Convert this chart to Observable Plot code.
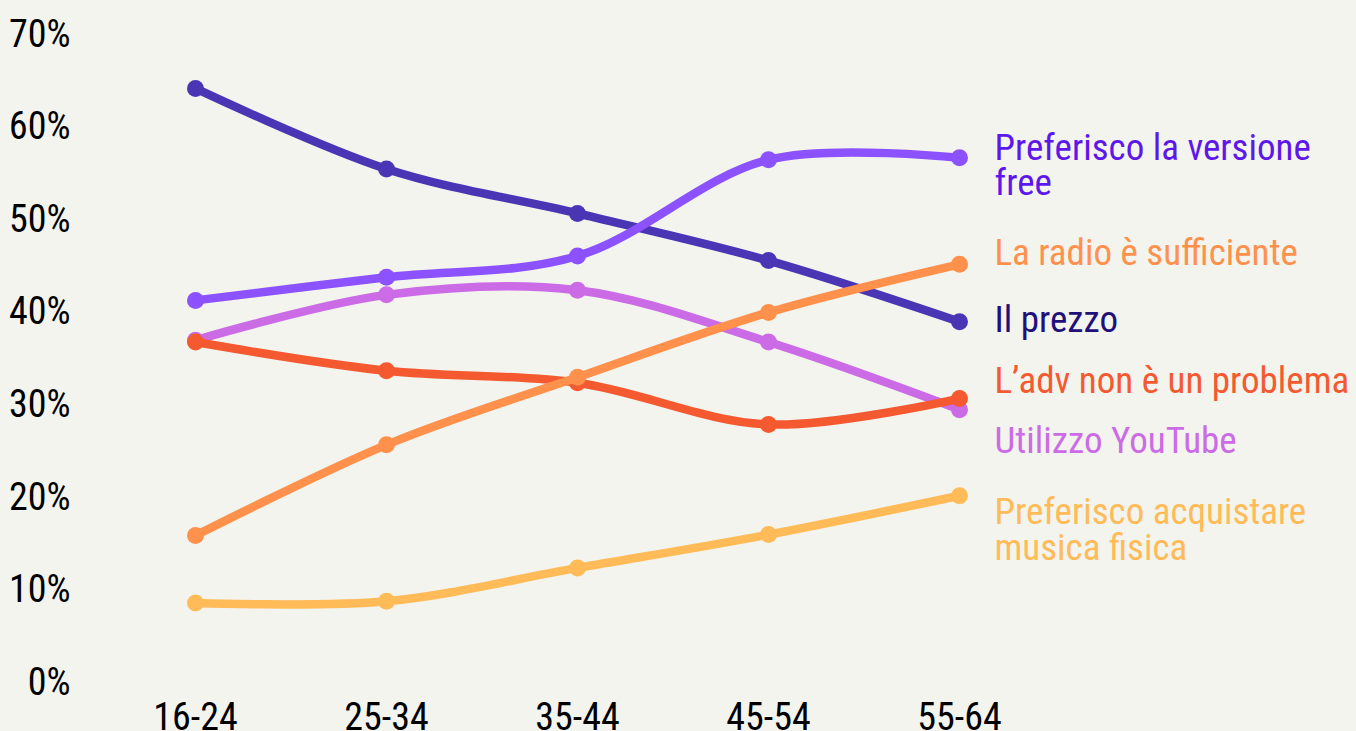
<!DOCTYPE html>
<html>
<head>
<meta charset="utf-8">
<script src="https://cdn.jsdelivr.net/npm/d3@7"></script>
<script src="https://cdn.jsdelivr.net/npm/@observablehq/plot@0.6"></script>
<style>
  html, body { margin: 0; padding: 0; background: #f4f4ef; }
  #chart svg { display: block; }
</style>
</head>
<body>
<div id="chart"></div>
<script>
const ages = ["16-24", "25-34", "35-44", "45-54", "55-64"];
const seriesNames = [
  "Preferisco acquistare\nmusica fisica",
  "Il prezzo",
  "Utilizzo YouTube",
  "L’adv non è un problema",
  "Preferisco la versione\nfree",
  "La radio è sufficiente"
];
const fisica  = [8.9, 9.1, 12.7, 16.3, 20.5];
const prezzo  = [64.5, 55.8, 51.0, 45.9, 39.3];
const youtube = [37.3, 42.2, 42.7, 37.1, 29.8];
const adv     = [37.1, 34.0, 32.7, 28.2, 31.0];
const free    = [41.6, 44.1, 46.4, 56.8, 57.0];
const radio   = [16.2, 26.0, 33.3, 40.3, 45.5];
const yTicks  = [0, 10, 20, 30, 40, 50, 60, 70];

const seriesValues = [fisica, prezzo, youtube, adv, free, radio];
const lineColors  = ["#ffbb58", "#4a36b5", "#cb6ce6", "#f4592f", "#8c52ff", "#ff914d"];
const labelColors = ["#ffbb58", "#22107a", "#cb6ce6", "#f4592f", "#5e17eb", "#ff914d"];
const labelDy     = [35, -1, 32, -17, 8, -11];

const rows = [];
seriesNames.forEach((s, i) => ages.forEach((a, j) => rows.push({series: s, age: a, value: seriesValues[i][j], idx: i})));
const last = seriesNames.map((s, i) => ({series: s, age: ages[ages.length - 1], value: seriesValues[i][ages.length - 1], idx: i}));

const FONT = "'Roboto Condensed', Roboto, sans-serif";
const marks = [];
seriesNames.forEach((s, i) => {
  const d = rows.filter(r => r.idx === i);
  marks.push(Plot.line(d, {x: "age", y: "value", stroke: lineColors[i], strokeWidth: 8.5, curve: "catmull-rom"}));
  marks.push(Plot.dot(d, {x: "age", y: "value", fill: lineColors[i], r: 8.5}));
});
last.forEach((l, i) => {
  marks.push(Plot.text([l], {
    x: "age", y: "value", text: "series", fill: labelColors[i],
    dx: 35, dy: labelDy[i], textAnchor: "start", lineAnchor: "middle", lineHeight: 0.95,
    fontSize: 37, fontFamily: FONT
  }));
});

const chart = Plot.plot({
  width: 1356,
  height: 731,
  marginTop: 37,
  marginBottom: 46,
  marginLeft: 78,
  marginRight: 0,
  style: {background: "#f4f4ef", overflow: "visible"},
  x: {type: "point", domain: ages, range: [193, 960], padding: 0, label: null},
  y: {domain: [0, 70], range: [685, 37], label: null},
  marks: [
    Plot.axisY({ticks: yTicks, tickSize: 0, tickPadding: 8, dy: -3, tickFormat: d => d + "%", fontSize: 38,
      fontFamily: FONT, fill: "#000", label: null}),
    Plot.axisX({tickSize: 0, tickPadding: 18, fontSize: 38,
      fontFamily: FONT, fill: "#000", label: null}),
    ...marks
  ]
});
document.getElementById("chart").appendChild(chart);
</script>
</body>
</html>
